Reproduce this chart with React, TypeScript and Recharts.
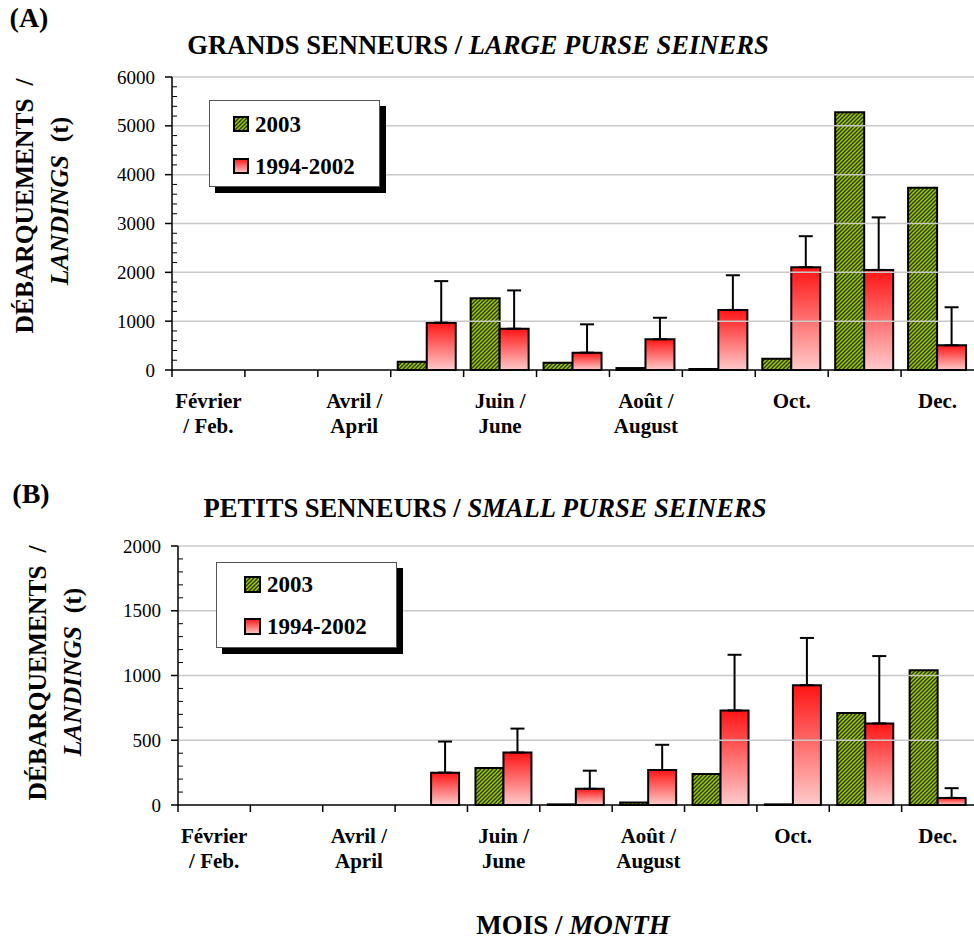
import React from "react"
import { BarChart, Bar, XAxis, YAxis, ErrorBar, ReferenceLine } from "recharts"

const FONT = '"Liberation Serif", "Times New Roman", serif'

// months (Feb -> Dec), labels shown every other month
const months = ["Fév", "Mar", "Avr", "Mai", "Juin", "Juil", "Août", "Sep", "Oct", "Nov", "Déc"]
const monthLabels: string[][] = [
  ["Février", "/ Feb."], [], ["Avril /", "April"], [], ["Juin /", "June"], [],
  ["Août /", "August"], [], ["Oct."], [], ["Dec."],
]

// (A) grands senneurs / large purse seiners
const large2003 = [0, 0, 0, 170, 1470, 150, 40, 20, 230, 5280, 3730]
const largeMean = [0, 0, 0, 970, 845, 355, 630, 1230, 2105, 2050, 505]
const largeUpper = [5, 5, 5, 1820, 1630, 935, 1070, 1940, 2740, 3125, 1285]
const largeMajor = [0, 1000, 2000, 3000, 4000, 5000, 6000]

// (B) petits senneurs / small purse seiners
const small2003 = [0, 0, 0, 0, 285, 5, 20, 240, 5, 710, 1040]
const smallMean = [0, 0, 0, 250, 405, 125, 270, 730, 925, 630, 55]
const smallUpper = [2, 2, 2, 490, 590, 265, 465, 1160, 1290, 1150, 130]
const smallMajor = [0, 500, 1000, 1500, 2000]

type PanelProps = {
  id: string
  top: number
  height: number
  margin: { top: number; right: number; bottom: number; left: number }
  barSize: number
  v2003: number[]
  mean: number[]
  upper: number[]
  major: number[]
  minorStep: number
}

function Panel(p: PanelProps) {
  const data = months.map((m, i) => ({
    month: m,
    y2003: p.v2003[i],
    mean: p.mean[i],
    err: [0, p.upper[i] - p.mean[i]],
  }))
  const max = p.major[p.major.length - 1]
  const minor = Array.from({ length: max / p.minorStep + 1 }, (_, i) => i * p.minorStep)

  const yTick = (t: any) => {
    const v = t.payload.value
    const isMajor = p.major.includes(v)
    return (
      <g>
        {isMajor ? (
          <line x1={t.x - 7} x2={t.x} y1={t.y} y2={t.y} stroke="#000" strokeWidth={1.5} />
        ) : (
          <line x1={t.x} x2={t.x + 5} y1={t.y} y2={t.y} stroke="#000" strokeWidth={1} />
        )}
        {isMajor && (
          <text x={t.x - 17} y={t.y} dy="0.35em" textAnchor="end" fontSize={19} fontFamily={FONT} fill="#000">
            {v}
          </text>
        )}
      </g>
    )
  }

  const xTick = (t: any) => {
    const lines = monthLabels[t.index] ?? []
    const off = t.payload?.offset ?? 0
    return (
      <g>
        <line x1={t.x - off} x2={t.x - off} y1={t.y} y2={t.y + 7} stroke="#000" strokeWidth={1.5} />
        {lines.map((s, k) => (
          <text key={k} x={t.x} y={t.y + 31 + k * 25} dy="0.35em" textAnchor="middle"
            fontSize={21} fontWeight="bold" fontFamily={FONT} fill="#000">
            {s}
          </text>
        ))}
      </g>
    )
  }

  return (
    <div style={{ position: "absolute", left: 0, top: p.top }}>
      <BarChart width={974} height={p.height} data={data} margin={p.margin} barGap={0}>
        <defs>
          <pattern id={`hatch-${p.id}`} patternUnits="userSpaceOnUse" width="4" height="4">
            <rect width="4" height="4" fill="#99cc00" />
            <path d="M-1,1 l2,-2 M0,4 l4,-4 M3,5 l2,-2" stroke="#2b3300" strokeWidth="1.3" />
          </pattern>
          <linearGradient id={`grad-${p.id}`} x1="0" y1="0" x2="0" y2="1">
            <stop offset="0%" stopColor="#ff1414" />
            <stop offset="100%" stopColor="#ffcaca" />
          </linearGradient>
        </defs>
        {p.major.filter((v) => v > 0).map((v) => (
          <ReferenceLine key={v} y={v} stroke="#c8c8c8" strokeWidth={1.5} />
        ))}
        <XAxis dataKey="month" interval={0} tick={xTick} tickLine={false} tickSize={0} tickMargin={0}
          axisLine={{ stroke: "#000", strokeWidth: 1.5 }} height={60} />
        <YAxis type="number" domain={[0, max]} ticks={minor} interval={0} tick={yTick} tickLine={false}
          tickSize={0} tickMargin={0} axisLine={{ stroke: "#000", strokeWidth: 1.5 }} width={60} />
        <Bar dataKey="y2003" fill={`url(#hatch-${p.id})`} stroke="#000" strokeWidth={2}
          barSize={p.barSize} isAnimationActive={false} />
        <Bar dataKey="mean" fill={`url(#grad-${p.id})`} stroke="#000" strokeWidth={2}
          barSize={p.barSize} isAnimationActive={false}>
          <ErrorBar dataKey="err" direction="y" width={7} stroke="#000" strokeWidth={2} />
        </Bar>
      </BarChart>
    </div>
  )
}

function LegendBox(props: { id: string; left: number; top: number; width: number; height: number;
  sw: number; swX: number; textX: number; row1: number; row2: number; fontSize: number }) {
  const { id, left, top, width, height, sw, swX, textX, row1, row2, fontSize } = props
  const row = (cy: number, fill: string, label: string) => (
    <>
      <svg width={sw} height={sw} style={{ position: "absolute", left: swX, top: cy - sw / 2 }}>
        <rect x={1} y={1} width={sw - 2} height={sw - 2} fill={fill} stroke="#000" strokeWidth={2} />
      </svg>
      <div style={{ position: "absolute", left: textX, top: cy - fontSize / 2, fontSize, lineHeight: `${fontSize}px`,
        fontWeight: "bold", whiteSpace: "nowrap" }}>{label}</div>
    </>
  )
  return (
    <div style={{ position: "absolute", left, top, width, height, boxSizing: "border-box",
      border: "1px solid #555", background: "#fff", boxShadow: "6px 6px 0 #000" }}>
      {row(row1, `url(#hatch-${id})`, "2003")}
      {row(row2, `url(#grad-${id})`, "1994-2002")}
    </div>
  )
}

function Rot(props: { cx: number; cy: number; size: number; children: React.ReactNode }) {
  return (
    <div style={{ position: "absolute", left: props.cx, top: props.cy, fontSize: props.size,
      lineHeight: `${props.size}px`, fontWeight: "bold", whiteSpace: "pre",
      transform: "translate(-50%, -50%) rotate(-90deg)" }}>
      {props.children}
    </div>
  )
}

function Centered(props: { cx: number; cy: number; size: number; children: React.ReactNode }) {
  return (
    <div style={{ position: "absolute", left: props.cx, top: props.cy, fontSize: props.size,
      lineHeight: `${props.size}px`, fontWeight: "bold", whiteSpace: "pre",
      transform: "translate(-50%, -50%)" }}>
      {props.children}
    </div>
  )
}

export default function App() {
  return (
    <div style={{ position: "absolute", left: 0, top: 0, width: 974, height: 939, background: "#fff",
      fontFamily: FONT, color: "#000" }}>
      <Panel id="a" top={0} height={440} margin={{ top: 77, right: 0, bottom: 10, left: 112 }} barSize={29}
        v2003={large2003} mean={largeMean} upper={largeUpper} major={largeMajor} minorStep={200} />
      <Panel id="b" top={470} height={440} margin={{ top: 76, right: 0, bottom: 45, left: 118 }} barSize={28}
        v2003={small2003} mean={smallMean} upper={smallUpper} major={smallMajor} minorStep={100} />

      <Centered cx={29} cy={18} size={28}>(A)</Centered>
      <Centered cx={478} cy={45} size={26.6}>GRANDS SENNEURS / <i>LARGE PURSE SEINERS</i></Centered>
      <Rot cx={25} cy={206} size={25.5}>DÉBARQUEMENTS  /</Rot>
      <Rot cx={60} cy={201} size={25.5}><i>LANDINGS</i>  (t)</Rot>
      <LegendBox id="a" left={209} top={100} width={171} height={87} sw={16} swX={23} textX={45}
        row1={23} row2={65} fontSize={23} />

      <Centered cx={31} cy={494} size={28}>(B)</Centered>
      <Centered cx={485} cy={508} size={26.6}>PETITS SENNEURS / <i>SMALL PURSE SEINERS</i></Centered>
      <Rot cx={38} cy={673} size={25.5}>DÉBARQUEMENTS  /</Rot>
      <Rot cx={73} cy={672} size={25.5}><i>LANDINGS</i>  (t)</Rot>
      <LegendBox id="b" left={216} top={562} width={181} height={86} sw={17} swX={27} textX={50}
        row1={21} row2={63} fontSize={23} />

      <Centered cx={573} cy={925} size={27}>MOIS / <i>MONTH</i></Centered>
    </div>
  )
}
